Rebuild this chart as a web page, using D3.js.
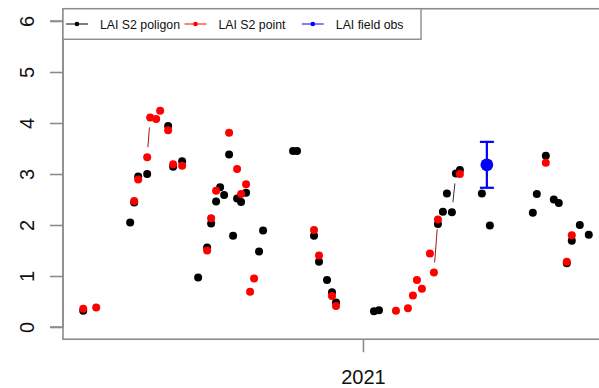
<!DOCTYPE html>
<html>
<head>
<meta charset="utf-8">
<script src="https://cdn.jsdelivr.net/npm/d3@7/dist/d3.min.js"></script>
<style>
  html, body { margin: 0; padding: 0; background: #fff; }
  svg { display: block; font-family: "Liberation Sans", Arial, Helvetica, sans-serif; }
</style>
</head>
<body>
<svg id="chart" width="599" height="388"></svg>
<script>
// Sentinel-2 acquisitions; null = no valid LAI (cloud / masked)
const acqDates = [
  "2020-03-27","2020-04-09","2020-05-13","2020-05-15","2020-05-17","2020-05-19","2020-05-21","2020-05-26",
  "2020-05-30","2020-06-02","2020-06-08","2020-06-12","2020-06-16","2020-06-20","2020-06-23","2020-06-25",
  "2020-07-04","2020-07-12","2020-07-20","2020-07-25","2020-07-29","2020-07-31","2020-08-02","2020-08-04",
  "2020-08-07","2020-08-11","2020-08-15","2020-08-17","2020-08-20","2020-08-22","2020-08-24","2020-08-26",
  "2020-08-28","2020-08-30","2020-09-01","2020-09-06","2020-09-08","2020-09-10","2020-09-14","2020-09-19",
  "2020-09-21","2020-09-23","2020-10-08","2020-10-23","2020-10-27","2020-11-05","2020-11-13","2020-11-16",
  "2020-11-18","2020-11-26","2020-12-01","2020-12-05","2020-12-24","2021-01-12","2021-01-17","2021-02-03",
  "2021-02-15","2021-02-20","2021-02-24","2021-03-01","2021-03-05","2021-03-09","2021-03-13","2021-03-17",
  "2021-03-22","2021-03-26","2021-03-31","2021-04-04","2021-04-08","2021-04-19","2021-04-30","2021-05-04",
  "2021-05-08","2021-05-29","2021-06-20","2021-06-24","2021-06-28","2021-07-03","2021-07-07","2021-07-11",
  "2021-07-16","2021-07-20","2021-07-24","2021-07-26","2021-07-29","2021-08-06","2021-08-15"
];

// LAI averaged over the field polygon
const laiPoligon = [
  0.32, null, 2.05, null, 2.44, null, 2.95, null,
  3.00, null, null, null, null, 3.94, null, 3.14,
  3.25, null, 0.97, null, 1.56, null, 2.03, null,
  2.46, 2.74, 2.59, null, 3.38, null, 1.79, null,
  2.52, null, 2.45, 2.63, null, null, null, 1.48,
  null, 1.89, null, 3.45, 3.45, null, 1.79, null,
  1.28, 0.92, 0.68, 0.48, null, 0.31, 0.33, null,
  null, null, null, null, null, null, null, 2.02,
  2.26, 2.62, 2.25, 3.01, 3.08, null, 2.62, null,
  1.99, null, 2.24, 2.61, null, 3.36, null, 2.50,
  2.43, null, 1.25, null, 1.69, 2.00, 1.81
];

// LAI at the sampling point pixel
const laiPoint = [
  0.36, 0.38, null, null, 2.47, null, 2.89, null,
  3.33, 4.11, 4.08, 4.24, null, 3.86, null, 3.19,
  3.16, null, null, null, 1.50, null, 2.13, null,
  2.67, null, null, null, 3.81, null, null, null,
  3.10, null, 2.61, 2.80, null, 0.69, 0.95, null,
  null, null, null, null, null, null, 1.90, null,
  1.40, null, 0.61, 0.41, null, null, null, 0.32,
  0.37, 0.62, 0.92, 0.75, null, 1.44, 1.07, 2.11,
  null, null, null, null, 3.00, null, null, null,
  null, null, null, null, null, 3.22, null, null,
  null, null, 1.28, null, 1.80, null, null
];

// Field measurement (mean and spread)
const fieldDates = ["2021-05-05"];
const fieldLai = [3.18];
const fieldLow = [2.73];
const fieldHigh = [3.63];

const yTickValues = [0, 1, 2, 3, 4, 5, 6];
const yLimits = [0, 6];
const legendLabels = ["LAI S2 poligon", "LAI S2 point", "LAI field obs"];
const legendColors = ["#000000", "#ff0000", "#0000ff"];

// ---- layout ----
const plot = { left: 63, right: 609, top: 8.76, bottom: 339.24 };
const frameColor = "#8c8c8c";
const GAP = 10;     // gap left around each point by the connecting segments
const R = 4;        // point radius

const parse = d3.utcParse("%Y-%m-%d");
const dates = acqDates.map(parse);
const fDates = fieldDates.map(parse);

// 4% padding on both axes, as in base graphics
const ext = d3.extent(dates.concat(fDates));
const span = ext[1] - ext[0];
const x = d3.scaleUtc()
  .domain([new Date(+ext[0] - 0.04 * span), new Date(+ext[1] + 0.04 * span)])
  .range([plot.left, plot.right]);
const ySpan = yLimits[1] - yLimits[0];
const y = d3.scaleLinear()
  .domain([yLimits[0] - 0.04 * ySpan, yLimits[1] + 0.04 * ySpan])
  .range([plot.bottom, plot.top]);

const svg = d3.select("#chart");

// plot frame
svg.append("rect")
  .attr("x", plot.left).attr("y", plot.top)
  .attr("width", plot.right - plot.left).attr("height", plot.bottom - plot.top)
  .attr("fill", "none").attr("stroke", frameColor).attr("stroke-width", 1.6);

// y axis
const yAxis = d3.axisLeft(y).tickValues(yTickValues).tickSize(13).tickPadding(17).tickFormat(d3.format("d"));
const gy = svg.append("g").attr("transform", `translate(${plot.left},0)`).call(yAxis);
gy.select(".domain").attr("stroke", frameColor).attr("stroke-width", 1.6)
  .attr("d", `M-13,${y(yLimits[0])}H0V${y(yLimits[1])}H-13`);
gy.selectAll(".tick line").attr("stroke", frameColor).attr("stroke-width", 1.6);
gy.selectAll(".tick text")
  .attr("x", null).attr("dy", null)
  .attr("text-anchor", "middle")
  .attr("transform", "translate(-29.5,0) rotate(-90)")
  .attr("font-size", 20).attr("fill", "#111");

// x axis: yearly ticks
const xAxis = d3.axisBottom(x).ticks(d3.utcYear.every(1)).tickSize(13).tickPadding(0)
  .tickFormat(d3.utcFormat("%Y"));
const gx = svg.append("g").attr("transform", `translate(0,${plot.bottom})`).call(xAxis);
gx.select(".domain").remove();
gx.selectAll(".tick line").attr("stroke", frameColor).attr("stroke-width", 1.6);
gx.selectAll(".tick text").attr("y", 45).attr("dy", null)
  .attr("font-size", 20).attr("fill", "#111");

// connecting segments with gaps around the points (type "b")
function brokenSegments(vals) {
  const segs = [];
  for (let i = 0; i < vals.length - 1; i++) {
    if (vals[i] == null || vals[i + 1] == null) continue;
    const x0 = x(dates[i]), y0 = y(vals[i]), x1 = x(dates[i + 1]), y1 = y(vals[i + 1]);
    const dx = x1 - x0, dy = y1 - y0, len = Math.hypot(dx, dy);
    if (len <= 2 * GAP) continue;
    const f = GAP / len;
    segs.push([x0 + f * dx, y0 + f * dy, x1 - f * dx, y1 - f * dy]);
  }
  return segs;
}

function drawSeries(vals, color, lineColor) {
  const g = svg.append("g");
  g.selectAll("line").data(brokenSegments(vals)).join("line")
    .attr("x1", d => d[0]).attr("y1", d => d[1]).attr("x2", d => d[2]).attr("y2", d => d[3])
    .attr("stroke", lineColor).attr("stroke-width", 1);
  const pts = vals.map((v, i) => ({ d: dates[i], v })).filter(p => p.v != null);
  g.selectAll("circle").data(pts).join("circle")
    .attr("cx", p => x(p.d)).attr("cy", p => y(p.v)).attr("r", R)
    .attr("fill", color);
}

drawSeries(laiPoligon, legendColors[0], "#333333");
drawSeries(laiPoint, legendColors[1], "#b01010");

// field observation with error bar
const field = fDates.map((d, i) => ({ d, v: fieldLai[i], lo: fieldLow[i], hi: fieldHigh[i] }));
const gf = svg.append("g").attr("stroke", legendColors[2]).attr("stroke-width", 2.2);
gf.selectAll("line.bar").data(field).join("line").attr("class", "bar")
  .attr("x1", f => x(f.d)).attr("x2", f => x(f.d)).attr("y1", f => y(f.lo)).attr("y2", f => y(f.hi));
gf.selectAll("line.capHi").data(field).join("line").attr("class", "capHi")
  .attr("x1", f => x(f.d) - 7).attr("x2", f => x(f.d) + 7).attr("y1", f => y(f.hi)).attr("y2", f => y(f.hi));
gf.selectAll("line.capLo").data(field).join("line").attr("class", "capLo")
  .attr("x1", f => x(f.d) - 7).attr("x2", f => x(f.d) + 7).attr("y1", f => y(f.lo)).attr("y2", f => y(f.lo));
svg.append("g").selectAll("circle").data(field).join("circle")
  .attr("cx", f => x(f.d)).attr("cy", f => y(f.v)).attr("r", 6.4)
  .attr("fill", legendColors[2]);

// legend
const legend = svg.append("g");
legend.append("rect")
  .attr("x", plot.left).attr("y", plot.top)
  .attr("width", 358).attr("height", 30.5)
  .attr("fill", "#fff").attr("stroke", frameColor).attr("stroke-width", 1.4);
const legendX = [77, 195.5, 312.8];
const legendY = 24;
legendLabels.forEach((lab, i) => {
  const cx = legendX[i];
  legend.append("line")
    .attr("x1", cx - 11).attr("x2", cx + 11).attr("y1", legendY).attr("y2", legendY)
    .attr("stroke", legendColors[i]).attr("stroke-width", 1);
  legend.append("circle").attr("cx", cx).attr("cy", legendY).attr("r", 2.3)
    .attr("fill", legendColors[i]);
  legend.append("text").attr("x", cx + 23).attr("y", legendY + 5)
    .attr("font-size", 12.3).attr("fill", "#111").text(lab);
});
</script>
</body>
</html>
